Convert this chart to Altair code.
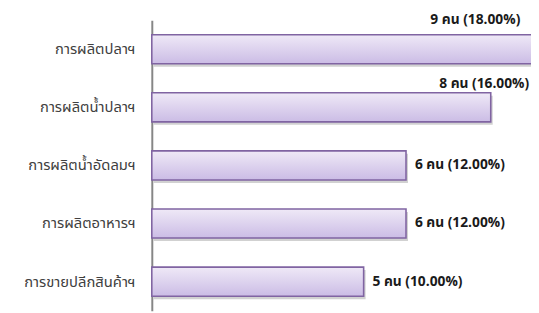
import altair as alt
import pandas as pd

categories = ["การผลิตปลาฯ", "การผลิตน้ำปลาฯ", "การผลิตน้ำอัดลมฯ", "การผลิตอาหารฯ", "การขายปลีกสินค้าฯ"]
counts = [9, 8, 6, 6, 5]
percents = [18.00, 16.00, 12.00, 12.00, 10.00]

df = pd.DataFrame({"cat": categories, "n": counts, "pct": percents})
df["label"] = [f"{n} คน ({p:.2f}%)" for n, p in zip(counts, percents)]

FONT = "Tahoma, 'Noto Sans Thai', 'Noto Sans', sans-serif"

ysc = alt.Scale(domain=categories, paddingInner=0.5, paddingOuter=0.25)
xsc = alt.Scale(domain=[0, 8.95], nice=False, zero=True)

base = alt.Chart(df)

y_enc = alt.Y("cat:N", sort=categories, scale=ysc, title=None,
              axis=alt.Axis(domainColor="#868686", domainWidth=2, ticks=False,
                            labelFont=FONT, labelFontSize=15, labelColor="#404040",
                            labelPadding=17, labelLimit=200, grid=False))
x_enc = alt.X("n:Q", scale=xsc, axis=None)

shadow = base.mark_bar(color="#9a9a9a", opacity=0.45, xOffset=2, yOffset=3).encode(x=x_enc, y=y_enc)

grad = alt.Gradient(gradient="linear", x1=0, y1=0, x2=0, y2=1,
                    stops=[alt.GradientStop(color="#efe9f7", offset=0),
                           alt.GradientStop(color="#cbbce5", offset=1)])
bars = base.mark_bar(color=grad, stroke="#8064a2", strokeWidth=1.6).encode(x=x_enc, y=y_enc)

tstyle = dict(font=FONT, fontSize=14, fontWeight="bold", color="#1a1a1a")

lab1 = base.transform_filter(alt.datum.n == 9).mark_text(
    align="right", baseline="middle", dx=-13, dy=-30, **tstyle
).encode(x=x_enc, y=y_enc, text="label:N")
lab2 = base.transform_filter(alt.datum.n == 8).mark_text(
    align="right", baseline="middle", dx=39, dy=-24, **tstyle
).encode(x=x_enc, y=y_enc, text="label:N")
lab3 = base.transform_filter(alt.datum.n <= 6).mark_text(
    align="left", baseline="middle", dx=9, dy=0, **tstyle
).encode(x=x_enc, y=y_enc, text="label:N")

chart = alt.layer(shadow, bars, lab1, lab2, lab3).properties(
    width=385, height=295,
    autosize=alt.AutoSizeParams(type="none"),
    padding={"left": 146, "top": 10, "right": 0, "bottom": 0},
).configure_view(stroke=None)

chart.save("out.html", embed_options={"renderer": "svg", "actions": False})
